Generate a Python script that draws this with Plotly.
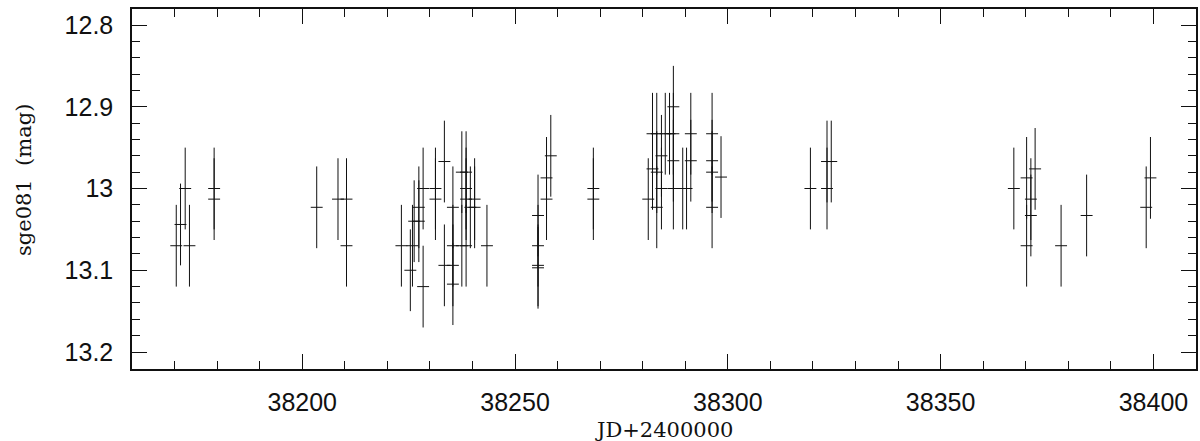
import plotly.graph_objects as go

# Julian date (JD - 2400000) of each observation
jd = [
    38170.4, 38171.4, 38172.5, 38173.5, 38179.3, 38179.3,
    38203.4, 38208.4, 38210.4, 38210.4,
    38223.3, 38225.9, 38225.4, 38226.3, 38227.4, 38227.4, 38228.4, 38228.4,
    38231.3, 38231.3, 38233.4, 38233.4, 38235.4, 38235.4, 38235.4, 38235.4,
    38237.5, 38237.5, 38238.5, 38238.5, 38238.5, 38238.5, 38239.5, 38240.5,
    38240.5, 38243.4,
    38255.4, 38255.4, 38255.4, 38255.4, 38257.4, 38257.4, 38258.4,
    38268.4, 38268.4,
    38281.3, 38282.3, 38282.3, 38283.3, 38283.3, 38283.3, 38284.4, 38284.4,
    38285.3, 38286.3, 38287.2, 38287.2, 38287.2, 38287.2, 38289.4, 38290.3,
    38291.3, 38291.3, 38296.3, 38296.3, 38296.3, 38296.3, 38298.4,
    38319.4, 38323.3, 38324.3, 38323.3,
    38367.2, 38370.2, 38370.2, 38371.2, 38371.2, 38372.2, 38378.3, 38384.3,
    38398.3, 38399.3,
]

# magnitude of sge081
mag = [
    13.070, 13.044, 13.000, 13.070, 13.000, 13.013,
    13.023, 13.013, 13.013, 13.070,
    13.070, 13.070, 13.100, 13.040, 13.023, 13.040, 13.000, 13.120,
    13.000, 13.013, 12.967, 13.094, 13.023, 13.070, 13.094, 13.117,
    12.980, 13.070, 12.980, 13.000, 13.013, 13.070, 13.023, 13.013,
    13.023, 13.070,
    13.033, 13.070, 13.094, 13.097, 12.987, 13.013, 12.960,
    13.000, 13.013,
    13.013, 12.933, 12.976, 12.933, 12.980, 13.023, 12.960, 13.000,
    12.933, 12.933, 12.900, 12.933, 12.966, 13.000, 13.000, 13.000,
    12.933, 12.966, 12.933, 12.966, 12.980, 13.023, 12.986,
    13.000, 12.967, 12.967, 13.000,
    13.000, 12.987, 13.070, 13.013, 13.033, 12.976, 13.070, 13.033,
    13.023, 12.987,
]

mag_err = 0.05   # vertical error bar half-length (mag)
jd_err = 1.4     # horizontal bar half-length (days)

x_tickvals = [38200, 38250, 38300, 38350, 38400]
x_ticktext = ["38200", "38250", "38300", "38350", "38400"]
y_tickvals = [12.8, 12.9, 13.0, 13.1, 13.2]
y_ticktext = ["12.8", "12.9", "13", "13.1", "13.2"]

x_title = "JD+2400000"
y_title = "sge081\u00a0\u00a0(mag)"

fig = go.Figure()
fig.add_trace(go.Scatter(
    x=jd, y=mag, mode="markers",
    marker=dict(size=1, color="rgba(0,0,0,0)"),
    error_y=dict(type="constant", value=mag_err, width=0, thickness=1, color="#111"),
    error_x=dict(type="constant", value=jd_err, width=0, thickness=1, color="#111"),
    showlegend=False, hoverinfo="skip",
))

tickfont = dict(family="Liberation Sans", size=25, color="#111")
fig.update_xaxes(
    range=[38160, 38410], tickvals=x_tickvals, ticktext=x_ticktext,
    ticks="inside", ticklen=15, tickwidth=1.2, tickcolor="#111",
    minor=dict(ticks="inside", ticklen=8, dtick=10, tickwidth=1.2, tickcolor="#111", tick0=38160),
    showline=True, linecolor="#111", linewidth=1.5, mirror="ticks",
    showgrid=False, zeroline=False, tickfont=tickfont, ticklabelstandoff=10,
    automargin=False,
)
fig.update_yaxes(
    range=[13.2208, 12.7804], tickvals=y_tickvals, ticktext=y_ticktext,
    ticks="inside", ticklen=15, tickwidth=1.2, tickcolor="#111",
    minor=dict(ticks="inside", ticklen=8, dtick=0.02, tick0=12.8, tickwidth=1.2, tickcolor="#111"),
    showline=True, linecolor="#111", linewidth=1.5, mirror="ticks",
    showgrid=False, zeroline=False, tickfont=tickfont, ticklabelstandoff=12,
    automargin=False,
)

titlefont = dict(family="DejaVu Serif", size=21, color="#111")
fig.add_annotation(text=x_title, xref="paper", yref="paper", x=0.5, y=(369 - 430) / 360,
                   xanchor="center", yanchor="middle", showarrow=False, font=titlefont)
fig.add_annotation(text=y_title, xref="paper", yref="paper", x=(24 - 132) / 1064, y=(369 - 180) / 360,
                   xanchor="center", yanchor="middle", showarrow=False, textangle=-90, font=titlefont)

fig.update_layout(
    width=1200, height=441,
    margin=dict(l=132, r=4, t=9, b=72, autoexpand=False),
    paper_bgcolor="white", plot_bgcolor="white",
)
fig.write_html(
    "out.html",
    config={"displayModeBar": False},
    post_script="document.body.style.margin='0';document.body.style.overflow='hidden';",
)
